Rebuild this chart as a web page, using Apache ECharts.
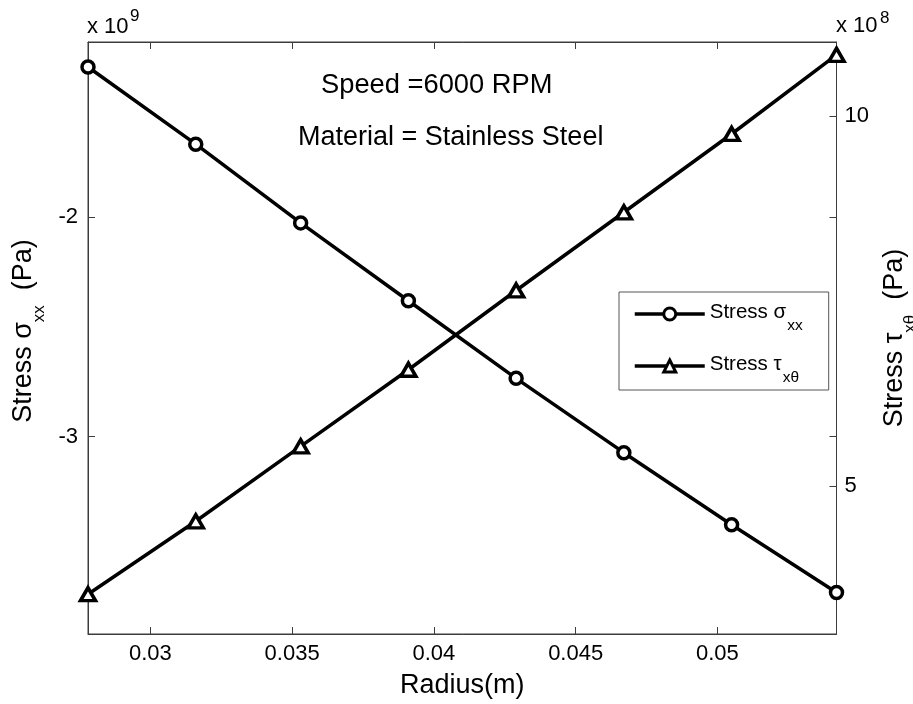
<!DOCTYPE html>
<html>
<head>
<meta charset="utf-8">
<script src="https://cdn.jsdelivr.net/npm/echarts@6/dist/echarts.min.js"></script>
<style>
html,body{margin:0;padding:0;background:#fff;}
#chart{width:913px;height:704px;}
</style>
</head>
<body>
<div id="chart"></div>
<script>
// ---- data ----
const radius = [0.0278, 0.0316, 0.0353, 0.0391, 0.0429, 0.0467, 0.0505, 0.0542];
const sigmaXX = [-1.314e9, -1.666e9, -2.025e9, -2.380e9, -2.734e9, -3.073e9, -3.402e9, -3.711e9];
const tauXTheta = [3.538e8, 4.523e8, 5.536e8, 6.571e8, 7.642e8, 8.699e8, 9.757e8, 10.827e8];
const xTicks = [0.03, 0.035, 0.04, 0.045, 0.05];
const leftTicks = [-3e9, -2e9];
const rightTicks = [5e8, 10e8];
const xRange = [0.0278, 0.0542];
const leftRange = [-3.9e9, -1.2e9];
const rightRange = [3e8, 11e8];

const FONT = "'Liberation Sans', Arial, Helvetica, sans-serif";
const AX = '#3c3c3c';

const chart = echarts.init(document.getElementById('chart'), null, {renderer: 'canvas'});

const tickStyle = {show: true, inside: true, length: 7, lineStyle: {color: AX, width: 1}};

const titleRich = {
  a: {fontSize: 27, lineHeight: 30, verticalAlign: 'top', fontFamily: FONT, color: '#000'},
  s: {fontSize: 17, lineHeight: 17, verticalAlign: 'top', padding: [20, 0, 0, 0], fontFamily: FONT, color: '#000'}
};

const option = {
  backgroundColor: '#fff',
  animation: false,
  textStyle: {fontFamily: FONT},
  grid: {left: 88, right: 76.5, top: 42, bottom: 70, show: true, borderColor: AX, borderWidth: 1,
    backgroundColor: 'transparent', containLabel: false, outerBoundsMode: 'none'},
  legend: {
    orient: 'vertical',
    left: 619, top: 292,
    itemWidth: 70, itemHeight: 15, itemGap: 20,
    padding: [10, 26, 4, 14],
    borderColor: '#555', borderWidth: 1, backgroundColor: '#fff',
    lineStyle: {width: 3.5, color: '#000'},
    itemStyle: {borderWidth: 3, borderColor: '#000', color: '#fff'},
    data: ['sigma', 'tau'],
    formatter: function (n) {
      return n === 'sigma' ? '{a|Stress σ}{s|xx}' : '{a|Stress τ}{s|xθ}';
    },
    textStyle: {
      fontFamily: FONT, color: '#000',
      rich: {
        a: {fontSize: 20.5, lineHeight: 24, verticalAlign: 'top', fontFamily: FONT, color: '#000'},
        s: {fontSize: 15.5, lineHeight: 15, verticalAlign: 'top', padding: [16, 0, 0, 1], fontFamily: FONT, color: '#000'}
      }
    }
  },
  xAxis: [
    {
      type: 'value', position: 'bottom', min: xRange[0], max: xRange[1],
      axisLine: {show: true, lineStyle: {color: AX, width: 1}},
      axisTick: Object.assign({customValues: xTicks}, tickStyle),
      axisLabel: {customValues: xTicks, fontSize: 22, color: '#000', margin: 9, fontFamily: FONT},
      splitLine: {show: false},
      name: 'Radius(m)', nameLocation: 'middle', nameGap: 38,
      nameTextStyle: {fontSize: 27, color: '#000', fontFamily: FONT}
    },
    {
      type: 'value', position: 'top', min: xRange[0], max: xRange[1],
      axisLine: {show: true, lineStyle: {color: AX, width: 1}},
      axisTick: Object.assign({customValues: xTicks}, tickStyle),
      axisLabel: {show: false},
      splitLine: {show: false}
    }
  ],
  yAxis: [
    {
      type: 'value', position: 'left', min: leftRange[0], max: leftRange[1],
      axisLine: {show: true, lineStyle: {color: AX, width: 1}},
      axisTick: Object.assign({customValues: leftTicks}, tickStyle),
      axisLabel: {customValues: leftTicks, fontSize: 22, color: '#000', margin: 10, fontFamily: FONT,
        formatter: v => String(Math.round(v / 1e9))},
      splitLine: {show: false},
      name: '{a|Stress σ}{s|xx}{a|  (Pa)}', nameLocation: 'middle', nameGap: 43, nameRotate: 90,
      nameTextStyle: {color: '#000', fontFamily: FONT, padding: [0, 0, 0, 14], rich: titleRich}
    },
    {
      type: 'value', position: 'right', min: rightRange[0], max: rightRange[1],
      axisLine: {show: true, lineStyle: {color: AX, width: 1}},
      axisTick: Object.assign({customValues: rightTicks}, tickStyle),
      axisLabel: {customValues: rightTicks, fontSize: 22, color: '#000', margin: 8, fontFamily: FONT,
        formatter: v => String(Math.round(v / 1e8))},
      splitLine: {show: false},
      name: '{a|Stress τ}{s|xθ}{a|  (Pa)}', nameLocation: 'middle', nameGap: 45, nameRotate: 90,
      nameTextStyle: {color: '#000', fontFamily: FONT, rich: titleRich}
    },
    {
      type: 'value', position: 'right', min: leftRange[0], max: leftRange[1],
      axisLine: {show: false},
      axisTick: Object.assign({customValues: leftTicks}, tickStyle),
      axisLabel: {show: false},
      splitLine: {show: false}
    }
  ],
  graphic: [
    {type: 'text', left: 87, top: 16, style: {text: 'x 10', fontSize: 22, fontFamily: FONT, fill: '#000'}},
    {type: 'text', left: 130, top: 8, style: {text: '9', fontSize: 17, fontFamily: FONT, fill: '#000'}},
    {type: 'text', left: 836, top: 15, style: {text: 'x 10', fontSize: 22, fontFamily: FONT, fill: '#000'}},
    {type: 'text', left: 880, top: 9.5, style: {text: '8', fontSize: 17, fontFamily: FONT, fill: '#000'}},
    {type: 'text', left: 321, top: 72, style: {text: 'Speed =6000 RPM', fontSize: 27.3, fontFamily: FONT, fill: '#000'}},
    {type: 'text', left: 298, top: 124, style: {text: 'Material = Stainless Steel', fontSize: 27, fontFamily: FONT, fill: '#000'}}
  ],
  series: [
    {
      name: 'sigma', type: 'line', xAxisIndex: 0, yAxisIndex: 0,
      data: radius.map((r, i) => [r, sigmaXX[i]]),
      symbol: 'circle', symbolSize: 12,
      lineStyle: {color: '#000', width: 3.5},
      itemStyle: {color: '#fff', borderColor: '#000', borderWidth: 3.5},
      z: 3
    },
    {
      name: 'tau', type: 'line', xAxisIndex: 0, yAxisIndex: 1,
      data: radius.map((r, i) => [r, tauXTheta[i]]),
      symbol: 'triangle', symbolSize: [15, 13],
      lineStyle: {color: '#000', width: 3.5},
      itemStyle: {color: '#fff', borderColor: '#000', borderWidth: 3.5},
      z: 3
    }
  ]
};
chart.setOption(option);
</script>
</body>
</html>
